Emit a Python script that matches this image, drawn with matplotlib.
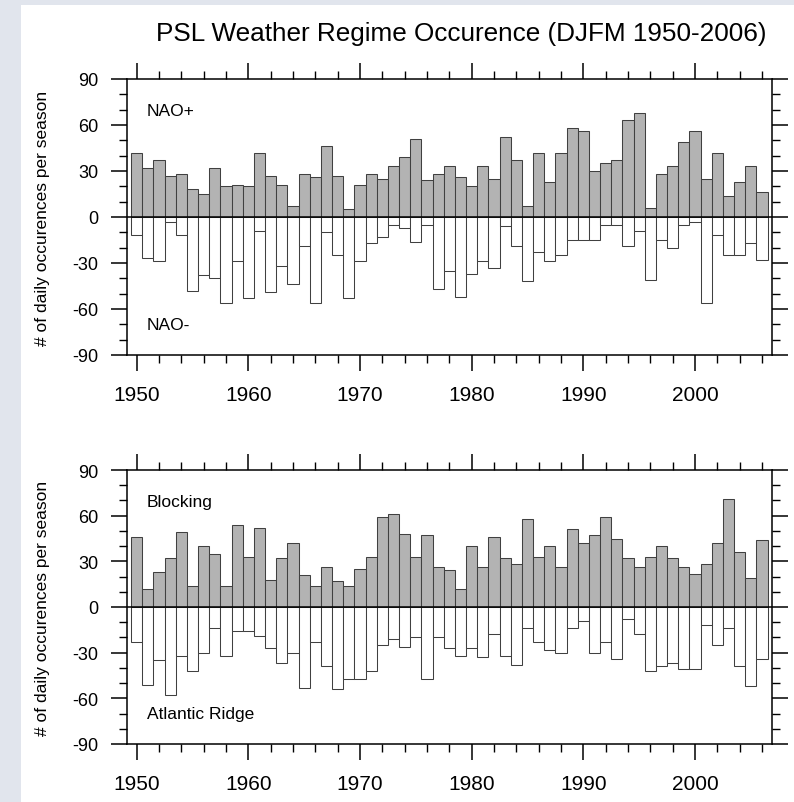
import matplotlib
matplotlib.use("Agg")
import matplotlib.pyplot as plt
from matplotlib.patches import Rectangle
from matplotlib.ticker import MultipleLocator

plt.rcParams['font.family'] = ['Liberation Sans', 'DejaVu Sans']

years = list(range(1950, 2007))

nao_pos = [42, 32, 37, 27, 28, 18, 15, 32, 20, 21,
           20, 42, 27, 21, 7, 28, 26, 46, 27, 5,
           21, 28, 25, 33, 39, 51, 24, 28, 33, 26,
           20, 33, 25, 52, 37, 7, 42, 23, 42, 58,
           56, 30, 35, 37, 63, 68, 6, 28, 33, 49,
           56, 25, 42, 14, 23, 33, 16]
nao_neg = [-12, -27, -29, -3, -12, -48, -38, -40, -56, -29,
           -53, -9, -49, -32, -44, -19, -56, -10, -25, -53,
           -29, -17, -13, -5, -7, -16, -5, -47, -35, -52,
           -37, -29, -33, -6, -19, -42, -23, -29, -25, -15,
           -15, -15, -5, -5, -19, -9, -41, -15, -20, -5,
           -3, -56, -12, -25, -25, -17, -28]
bl_pos = [46, 12, 23, 32, 49, 14, 40, 35, 14, 54,
          33, 52, 18, 32, 42, 21, 14, 26, 17, 14,
          25, 33, 59, 61, 48, 33, 47, 26, 24, 12,
          40, 26, 46, 32, 28, 58, 33, 40, 26, 51,
          42, 47, 59, 45, 32, 26, 33, 40, 32, 26,
          22, 28, 42, 71, 36, 19, 44]
ar_neg = [-23, -51, -35, -58, -32, -42, -30, -14, -32, -16,
          -16, -19, -27, -37, -30, -53, -23, -39, -54, -47,
          -47, -42, -25, -21, -26, -20, -47, -20, -27, -32,
          -27, -33, -18, -32, -38, -14, -23, -28, -30, -14,
          -9, -30, -23, -34, -8, -18, -42, -39, -37, -41,
          -41, -12, -25, -14, -39, -52, -34]

yticks = [-90, -60, -30, 0, 30, 60, 90]
xticks = [1950, 1960, 1970, 1980, 1990, 2000]
title = "PSL Weather Regime Occurence (DJFM 1950-2006)"
ylabel = "# of daily occurences per season"

W, H = 794, 803
fig = plt.figure(figsize=(W / 100, H / 100), dpi=100)
fig.patch.set_facecolor('#e1e5ed')
fig.patches.append(Rectangle((21 / W, 0), 1 - 21 / W, 1 - 6 / H,
                             transform=fig.transFigure, facecolor='white',
                             edgecolor='none', zorder=-10))

def px_axes(left, right, top, bottom):
    return [left / W, 1 - bottom / H, (right - left) / W, (bottom - top) / H]

panels = [
    (px_axes(127, 772, 80, 356), nao_pos, nao_neg, "NAO+", "NAO-"),
    (px_axes(127, 772, 471, 745), bl_pos, ar_neg, "Blocking", "Atlantic Ridge"),
]

fill_gray = '#b3b3b3'
edge = '#404040'

for rect, pos, neg, lab_top, lab_bot in panels:
    ax = fig.add_axes(rect)
    ax.set_zorder(1)
    ax.bar(years, pos, width=1.0, color=fill_gray, edgecolor=edge,
           linewidth=0.75, zorder=2)
    ax.bar(years, neg, width=1.0, color='white', edgecolor=edge,
           linewidth=0.75, zorder=2)
    ax.axhline(0, color='black', linewidth=1.1, zorder=3)
    ax.set_xlim(1949.13, 2006.9)
    ax.set_ylim(-90, 90)
    ax.set_yticks(yticks)
    ax.set_yticklabels([str(v) for v in yticks])
    ax.set_xticks(xticks)
    ax.set_xticklabels([str(v) for v in xticks])
    ax.xaxis.set_minor_locator(MultipleLocator(2))
    ax.yaxis.set_minor_locator(MultipleLocator(10))
    ax.tick_params(axis='both', which='major', direction='out', length=11.5,
                   width=1.1, color='black', top=True, right=True)
    ax.tick_params(axis='both', which='minor', direction='out', length=6,
                   width=1.0, color='black', top=True, right=True)
    ax.tick_params(axis='x', which='major', labelsize=15, pad=10)
    ax.tick_params(axis='y', which='major', labelsize=13, pad=9)
    for s in ax.spines.values():
        s.set_linewidth(1.1)
    ax.set_ylabel(ylabel, fontsize=12.5, labelpad=6)
    ax.yaxis.set_label_coords(-0.12, 0.5)
    ax.text(1950.9, 69.5, lab_top, fontsize=12.5, ha='left', va='center', zorder=4)
    ax.text(1950.9, -70, lab_bot, fontsize=12.5, ha='left', va='center', zorder=4)

fig.text(461 / W, 1 - 34 / H, title, fontsize=18.8, ha='center', va='center')

fig.savefig("out.png", dpi=100, facecolor=fig.get_facecolor())
